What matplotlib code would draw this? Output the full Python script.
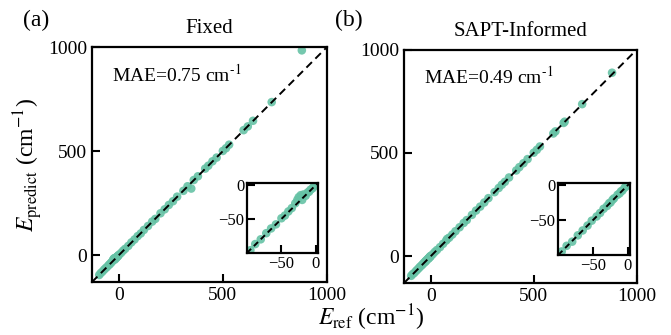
import numpy as np
import matplotlib
matplotlib.use("Agg")
import matplotlib.pyplot as plt

plt.rcParams["font.family"] = ["Liberation Serif", "DejaVu Serif"]
plt.rcParams["mathtext.fontset"] = "stix"

# 数据
ref_fixed = [-95, -88, -80, -72, -65, -58, -50, -45, -40, -35, -30, -27, -25, -22,
             -20, -18, -15, -12, -10, -8, -5, -3, 0, 10, 20, 30, 45, 60, 75, 90,
             105, 120, 140, 160, 175, 200, 220, 240, 260, 280, 310, 330, 348, 360,
             380, 415, 430, 450, 470, 500, 515, 530, 600, 620, 645, 735, 880]
pred_fixed = [-96, -87, -80, -71, -64, -58, -49, -45, -39, -34, -27, -22, -18, -15,
              -22, -14, -16, -11, -10, -7, -5, -2, 1, 10, 21, 30, 44, 61, 75, 91,
              104, 121, 140, 161, 174, 201, 220, 241, 259, 281, 309, 331, 320, 361,
              379, 416, 430, 451, 469, 501, 514, 531, 601, 619, 646, 736, 985]

ref_sapt = [-95, -88, -80, -72, -65, -58, -52, -45, -40, -35, -30, -27, -25, -22,
            -20, -15, -12, -10, -8, -5, -3, -1, 0, 10, 20, 30, 45, 60, 75, 80, 90,
            105, 120, 140, 160, 175, 200, 220, 240, 260, 280, 310, 330, 345, 360,
            380, 415, 430, 450, 470, 500, 515, 530, 595, 605, 645, 650, 735, 880]
pred_sapt = [-95, -87, -81, -72, -65, -58, -51, -45, -40, -34, -30, -26, -25, -21,
             -19, -14, -12, -9, -8, -4, -2, 1, 0, 10, 21, 30, 44, 60, 76, 84, 90,
             105, 121, 140, 161, 175, 200, 221, 240, 260, 281, 310, 330, 346, 360,
             381, 415, 431, 450, 470, 501, 515, 531, 594, 604, 645, 651, 736, 888]

titles = ["Fixed", "SAPT-Informed"]
labels = ["(a)", "(b)"]
mae_text = ["MAE=0.75 cm$^{\\text{-1}}$", "MAE=0.49 cm$^{\\text{-1}}$"]

color = "#66c2a5"
lims = (-130, 1000)
ins_lims = (-100, 3)

fig = plt.figure(figsize=(6.71, 3.35), dpi=100)
main_pos = [[0.137, 0.158, 0.350, 0.701], [0.602, 0.155, 0.347, 0.697]]
ins_pos = [[0.368, 0.245, 0.106, 0.209], [0.832, 0.239, 0.107, 0.215]]
label_x = [0.035, 0.500]

for i, (x, y) in enumerate([(ref_fixed, pred_fixed), (ref_sapt, pred_sapt)]):
    ax = fig.add_axes(main_pos[i])
    ax.scatter(x, y, s=38, color=color, alpha=0.9, edgecolors="none", zorder=2)
    ax.plot(lims, lims, "k--", lw=1.4, dashes=(4, 2.5), zorder=3)
    ax.set_xlim(lims)
    ax.set_ylim(lims)
    ax.set_xticks([0, 500, 1000])
    ax.set_yticks([0, 500, 1000])
    ax.tick_params(direction="in", length=6, width=1.5, labelsize=14,
                   top=False, right=False)
    for sp in ax.spines.values():
        sp.set_linewidth(1.6)
    ax.set_title(titles[i], fontsize=15, pad=10)
    ax.text(0.085, 0.93, mae_text[i], transform=ax.transAxes, fontsize=14,
            va="top", ha="left")
    fig.text(label_x[i], 0.94, labels[i], fontsize=17, va="center")
    if i == 0:
        ax.set_ylabel("$E_{\\mathrm{predict}}$ (cm$^{-1}$)", fontsize=17, labelpad=2)

    # 插图
    axi = fig.add_axes(ins_pos[i])
    axi.scatter(x, y, s=38, color=color, alpha=0.9, edgecolors="none", zorder=2)
    axi.plot(ins_lims, ins_lims, "k--", lw=1.4, dashes=(3, 2), zorder=3)
    axi.set_xlim(ins_lims)
    axi.set_ylim(ins_lims)
    axi.set_xticks([-50, 0])
    axi.set_yticks([-50, 0])
    axi.tick_params(direction="in", length=6, width=1.5, labelsize=12,
                    top=False, right=False, pad=2)
    for sp in axi.spines.values():
        sp.set_linewidth(1.6)

fig.text(0.553, 0.052, "$E_{\\mathrm{ref}}$ (cm$^{-1}$)", fontsize=17, ha="center",
         va="center")

fig.savefig("out.png", dpi=100)
